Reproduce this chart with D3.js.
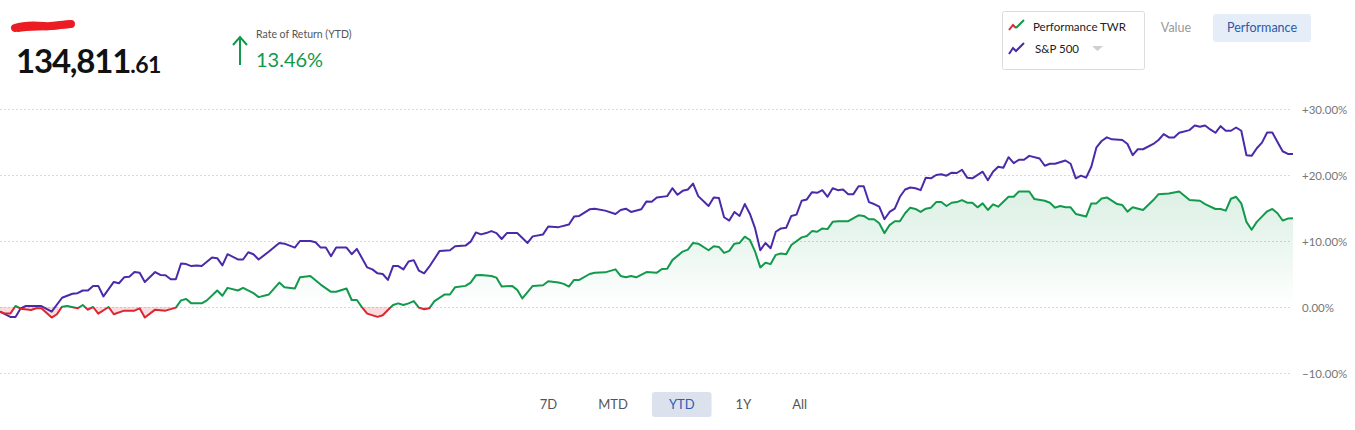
<!DOCTYPE html>
<html>
<head>
<meta charset="utf-8">
<script src="https://cdn.jsdelivr.net/npm/d3@7"></script>
<style>
  body { margin: 0; background: #fff; }
  svg { display: block; font-family: Lato, "Open Sans", sans-serif; }
</style>
</head>
<body>
<svg id="chart" width="1355" height="430"></svg>
<script>
"use strict";

// trading session number (0 = first session of the year) and YTD return in %
var twrSession = [0,1,2,3,4,6,7,8,10,11,12,13,15,16,17,18,19,21,22,24,26,27,28,30,32,34,35,36,37,39,40,42,43,44,46,47,49,50,52,54,55,57,58,60,62,64,65,67,68,69,70,71,73,74,75,76,77,78,79,80,81,82,83,84,86,87,88,90,91,92,93,95,96,97,99,100,101,103,105,106,108,109,110,111,112,114,115,117,119,120,121,122,123,125,127,128,129,130,132,133,134,135,137,138,139,140,141,142,143,144,145,146,147,148,149,150,151,152,153,155,156,157,158,159,160,161,162,164,166,167,168,169,170,171,172,173,174,175,176,177,178,179,180,181,182,183,184,185,186,187,188,189,190,191,192,193,195,196,197,199,200,202,203,204,205,206,207,208,210,211,212,213,214,216,217,218,219,221,223,224,226,228,230,232,233,235,236,237,238,239,240,241,242,243,244,245,246,247,248,249,250];
var twrReturn = [-0.7,-1.0,-1.0,0.15,-0.25,-0.45,-0.2,-0.2,-1.6,-1.1,0.05,0.15,-0.2,0.3,-0.4,0,-1.0,0,-1.1,-0.55,-0.55,-0.2,-1.6,-0.4,-0.55,-0.1,1.0,1.2,0.55,0.55,1.0,2.5,1.7,2.9,2.5,2.9,2.1,1.5,1.9,3.7,3.0,2.8,4.5,4.7,3.4,2.3,2.3,2.8,1.06,1.06,-0.05,-1.0,-1.5,-1.25,-0.45,0.3,0.55,0.3,0.55,0.9,-0.1,-0.35,-0.2,0.9,1.9,1.9,3.0,3.2,3.7,4.8,4.85,4.7,4.45,3.1,3.2,2.6,1.3,3.2,3.3,3.9,3.7,3.5,3.1,4.1,4.1,5.0,5.2,5.25,5.7,4.7,4.5,4.7,4.5,5.3,5.2,5.75,5.8,7.1,8.4,8.7,9.7,9.6,8.6,9.2,9.1,8.2,8.5,9.6,9.7,10.65,10.15,8.4,6.0,6.7,6.5,7.9,8.1,8.0,9.4,10.55,10.75,11.5,11.4,11.9,11.8,12.9,13.0,13.0,13.9,13.8,13.3,13.3,12.7,11.2,12.4,13.0,13.0,14.2,15.05,14.85,14.4,14.9,15.05,15.9,15.9,15.3,15.8,15.9,16.2,15.8,15.8,15.1,15.7,14.7,15.55,15.2,16.7,16.7,17.5,17.5,16.35,16.1,15.8,15.05,15.3,15.1,15.1,14.1,13.7,15.7,15.7,16.45,16.6,15.6,15.45,14.45,15.1,14.7,16.2,17.1,17.2,17.5,16.2,16.1,15.6,14.85,14.85,14.6,16.4,16.7,15.7,12.9,11.7,12.9,13.7,14.5,14.85,14.2,13.1,13.4,13.46];

var spSession = [0,2,3,4,5,8,10,12,14,15,16,17,18,19,20,22,23,24,25,26,27,28,30,31,32,33,34,35,36,37,38,39,41,42,43,44,46,47,48,49,50,52,54,55,57,58,60,61,62,63,64,65,67,68,69,71,72,73,74,75,76,77,78,79,80,81,82,83,85,87,88,90,91,92,93,94,95,96,97,98,100,102,103,105,106,108,110,111,112,114,115,117,119,120,121,122,124,125,126,127,129,130,131,132,133,134,135,137,138,139,140,141,142,143,144,145,146,147,148,149,150,151,152,153,154,155,156,157,158,159,160,161,162,163,164,165,166,167,168,169,170,171,172,173,174,175,176,177,178,179,180,181,182,183,184,185,186,187,188,190,191,192,193,194,195,196,197,198,199,201,202,203,204,206,207,208,209,210,211,212,213,214,215,217,218,219,220,221,223,224,225,226,227,228,230,231,232,233,234,235,236,237,238,239,240,241,242,243,244,245,246,247,248,249,250];
var spReturn = [-0.7,-1.5,-1.5,-0.2,0.15,0.15,-0.7,1.4,2.0,2.1,2.5,2.5,3.2,3.2,1.6,3.8,3.6,4.5,4.6,5.3,5.2,3.8,5.3,4.85,4.8,4.2,4.2,6.6,6.5,6.2,6.3,6.2,7.5,7.4,6.3,8.0,7.2,7.2,8.3,8.0,7.2,8.4,9.7,9.6,9.0,10.0,10.0,9.8,9.0,9.0,7.7,9.0,9.0,8.0,8.8,6.0,5.7,5.1,5.0,4.1,6.2,6.2,5.7,6.9,7.1,5.5,5.1,6.1,8.5,8.6,9.2,9.3,9.9,11.3,11.0,11.2,11.5,11.2,10.3,11.2,11.2,9.7,10.7,11.0,12.2,12.1,12.5,13.7,13.8,14.8,14.9,14.6,14.1,14.7,14.9,14.4,14.8,16.0,15.95,16.6,16.8,18.0,17.0,17.6,17.8,18.7,16.8,15.3,16.6,16.5,13.6,13.1,14.4,13.8,15.6,14.1,11.9,8.6,9.7,8.9,11.4,11.9,12.0,13.8,14.0,16.1,16.3,17.4,17.3,17.7,16.7,18.0,17.7,17.8,17.1,17.1,18.3,18.3,15.9,15.6,15.2,13.3,14.4,14.9,16.7,17.8,18.1,18.0,17.7,19.6,19.5,20.0,20.1,19.9,20.35,20.3,20.8,19.6,19.5,20.5,19.2,20.5,21.25,21.1,22.7,21.8,22.3,22.3,22.9,22.5,21.4,21.7,21.7,22.2,21.7,19.5,19.9,19.6,21.25,24.2,25.15,25.7,25.4,25.3,24.7,23.0,23.9,23.9,24.7,25.3,26.2,25.7,25.7,26.4,26.8,27.5,27.3,27.5,26.9,26.4,27.4,26.7,26.7,27.2,26.7,23.0,22.9,24.05,24.9,26.45,26.45,25.0,23.6,23.2,23.2];

var yTicks = [30, 20, 10, 0, -10];
var ranges = ['7D', 'MTD', 'YTD', '1Y', 'All'];
var activeRange = 'YTD';
var legendLabels = ['Performance TWR', 'S&P 500'];
var views = ['Value', 'Performance'];
var balanceWhole = '134,811';
var balanceCents = '.61';
var ytdReturn = '13.46%';

var colors = {
    green: '#12994c',
    red: '#dd2530',
    purple: '#4b2aa9',
    grid: '#d9d9d9',
    axisText: '#777',
    blueText: '#2b59a8'
};

var svg = d3.select('#chart');

var x = d3.scaleLinear().domain([0, 250]).range([0, 1293]);
var y = d3.scaleLinear().domain([-10, 30]).range([373, 109]);

var twr = twrSession.map(function(s, i) { return {s: s, v: twrReturn[i]}; });
var sp = spSession.map(function(s, i) { return {s: s, v: spReturn[i]}; });

// ---------- header ----------
// marker scribble over the account name
svg.append('path')
    .attr('d', 'M15,28 C24,25 34,25 44,26 C54,27 62,24 71,24')
    .attr('fill', 'none')
    .attr('stroke', '#ec1c24')
    .attr('stroke-width', 8)
    .attr('stroke-linecap', 'round');
svg.append('path')
    .attr('d', 'M18,30 C30,28 46,29 60,27 L70,26')
    .attr('fill', 'none')
    .attr('stroke', '#ec1c24')
    .attr('stroke-width', 4)
    .attr('stroke-linecap', 'round');

var bal = svg.append('text')
    .attr('x', 16)
    .attr('y', 73)
    .attr('fill', '#111')
    .attr('font-weight', 700);
bal.append('tspan').attr('font-size', 33).attr('letter-spacing', -1.2).text(balanceWhole);
bal.append('tspan').attr('font-size', 23).attr('letter-spacing', -0.5).text(balanceCents);

svg.append('path')
    .attr('d', 'M240,65 L240,37 M233,45 L240,37 L247,45')
    .attr('fill', 'none')
    .attr('stroke', colors.green)
    .attr('stroke-width', 2);

svg.append('text')
    .attr('x', 256)
    .attr('y', 38)
    .attr('font-size', 10.5)
    .attr('fill', '#555')
    .text('Rate of Return (YTD)');

svg.append('text')
    .attr('x', 256)
    .attr('y', 67)
    .attr('font-size', 20)
    .attr('fill', colors.green)
    .text(ytdReturn);

// ---------- legend ----------
var legend = svg.append('g').attr('transform', 'translate(1002,11)');
legend.append('rect')
    .attr('x', 0.5).attr('y', 0.5)
    .attr('width', 142).attr('height', 58)
    .attr('rx', 2)
    .attr('fill', '#fff')
    .attr('stroke', '#dcdcdc');

legend.append('path').attr('d', 'M7,19 L11,14 L14,17').attr('fill', 'none').attr('stroke', colors.red).attr('stroke-width', 2);
legend.append('path').attr('d', 'M14,17 L22,9').attr('fill', 'none').attr('stroke', colors.green).attr('stroke-width', 2);
legend.append('path').attr('d', 'M7,43 L11,37 L14,40 L22,32').attr('fill', 'none').attr('stroke', colors.purple).attr('stroke-width', 2);

legend.selectAll('text.legend-label')
    .data(legendLabels)
    .enter()
    .append('text')
    .attr('class', 'legend-label')
    .attr('x', function(d, i) { return i === 0 ? 31 : 33; })
    .attr('y', function(d, i) { return i === 0 ? 20 : 42; })
    .attr('font-size', 11.5)
    .attr('fill', '#222')
    .text(function(d) { return d; });

legend.append('path')
    .attr('d', 'M90,35 L101,35 L95.5,40 Z')
    .attr('fill', '#cfcfcf');

// ---------- view toggle ----------
svg.append('rect')
    .attr('x', 1213).attr('y', 14)
    .attr('width', 98).attr('height', 28)
    .attr('rx', 3)
    .attr('fill', '#e5edf9');

svg.append('text')
    .attr('x', 1176).attr('y', 32)
    .attr('text-anchor', 'middle')
    .attr('font-size', 12.5)
    .attr('fill', '#999')
    .text(views[0]);

svg.append('text')
    .attr('x', 1262).attr('y', 32)
    .attr('text-anchor', 'middle')
    .attr('font-size', 12.5)
    .attr('fill', colors.blueText)
    .text(views[1]);

// ---------- grid + axis ----------
var grid = svg.append('g').attr('class', 'grid');
grid.selectAll('line')
    .data(yTicks)
    .enter()
    .append('line')
    .attr('x1', 0)
    .attr('x2', 1292)
    .attr('y1', function(d) { return Math.round(y(d)) + 0.5; })
    .attr('y2', function(d) { return Math.round(y(d)) + 0.5; })
    .attr('stroke', colors.grid)
    .attr('stroke-dasharray', '2,2');

var axis = d3.axisRight(y)
    .tickValues(yTicks)
    .tickSize(0)
    .tickPadding(0)
    .tickFormat(function(d) { return (d > 0 ? '+' : '') + d3.format('.2f')(d) + '%'; });

var axisG = svg.append('g')
    .attr('transform', 'translate(1302,0)')
    .call(axis);
axisG.select('.domain').remove();
axisG.selectAll('text')
    .attr('font-family', 'Lato, "Open Sans", sans-serif')
    .attr('font-size', 11.5)
    .attr('fill', colors.axisText)
    .attr('dy', '0.35em');

// ---------- gradients ----------
var defs = svg.append('defs');
var zeroOffset = (y(0) - y(30)) / (y(-10) - y(30));

var strokeGrad = defs.append('linearGradient')
    .attr('id', 'twrStroke')
    .attr('gradientUnits', 'userSpaceOnUse')
    .attr('x1', 0).attr('x2', 0)
    .attr('y1', y(30)).attr('y2', y(-10));
strokeGrad.append('stop').attr('offset', zeroOffset).attr('stop-color', colors.green);
strokeGrad.append('stop').attr('offset', zeroOffset).attr('stop-color', colors.red);

var fillGrad = defs.append('linearGradient')
    .attr('id', 'twrFill')
    .attr('gradientUnits', 'userSpaceOnUse')
    .attr('x1', 0).attr('x2', 0)
    .attr('y1', y(17)).attr('y2', y(-10));
var fillZero = (y(0) - y(17)) / (y(-10) - y(17));
fillGrad.append('stop').attr('offset', 0).attr('stop-color', colors.green).attr('stop-opacity', 0.14);
fillGrad.append('stop').attr('offset', fillZero * 0.35).attr('stop-color', colors.green).attr('stop-opacity', 0.1);
fillGrad.append('stop').attr('offset', fillZero).attr('stop-color', colors.green).attr('stop-opacity', 0);
fillGrad.append('stop').attr('offset', fillZero).attr('stop-color', colors.red).attr('stop-opacity', 0.16);
fillGrad.append('stop').attr('offset', 1).attr('stop-color', colors.red).attr('stop-opacity', 0.16);

// ---------- series ----------
var area = d3.area()
    .x(function(d) { return x(d.s); })
    .y0(y(0))
    .y1(function(d) { return y(d.v); });

var line = d3.line()
    .x(function(d) { return x(d.s); })
    .y(function(d) { return y(d.v); });

svg.append('path')
    .datum(twr)
    .attr('d', area)
    .attr('fill', 'url(#twrFill)');

svg.append('path')
    .datum(sp)
    .attr('d', line)
    .attr('fill', 'none')
    .attr('stroke', colors.purple)
    .attr('stroke-width', 2)
    .attr('stroke-linejoin', 'round');

svg.append('path')
    .datum(twr)
    .attr('d', line)
    .attr('fill', 'none')
    .attr('stroke', 'url(#twrStroke)')
    .attr('stroke-width', 2)
    .attr('stroke-linejoin', 'round');

// ---------- range buttons ----------
var rangeG = svg.append('g').attr('class', 'ranges');
var pad = 17, gap = 7;
var labels = rangeG.selectAll('text')
    .data(ranges)
    .enter()
    .append('text')
    .attr('y', 409)
    .attr('text-anchor', 'middle')
    .attr('font-size', 13)
    .attr('fill', function(d) { return d === activeRange ? '#2b5cb0' : '#555'; })
    .text(function(d) { return d; });

var widths = [];
labels.each(function() { widths.push(this.getComputedTextLength() + pad * 2); });
var total = d3.sum(widths) + gap * (ranges.length - 1);
var cursor = 673.5 - total / 2;
var centers = widths.map(function(w) {
    var c = cursor + w / 2;
    cursor += w + gap;
    return c;
});
labels.attr('x', function(d, i) { return centers[i]; });

var ai = ranges.indexOf(activeRange);
rangeG.insert('rect', 'text')
    .attr('x', centers[ai] - widths[ai] / 2)
    .attr('y', 392)
    .attr('width', widths[ai])
    .attr('height', 25)
    .attr('rx', 3)
    .attr('fill', '#dbe2ee');
</script>
</body>
</html>
